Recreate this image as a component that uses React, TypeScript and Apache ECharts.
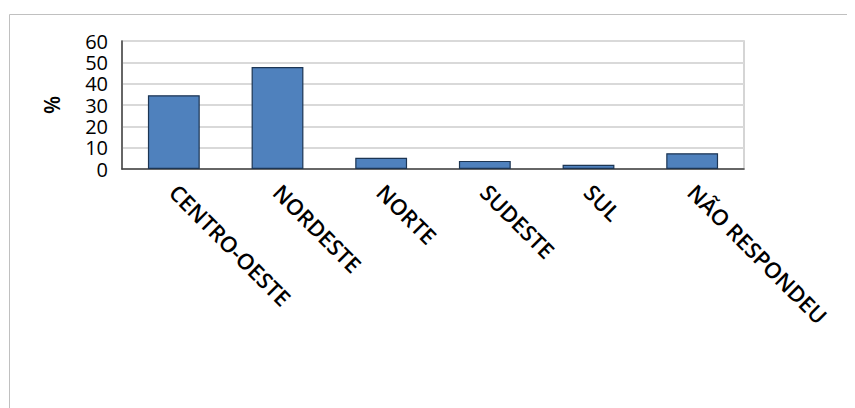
import React, { useEffect, useRef } from "react";
import * as echarts from "echarts";

const categories = ["CENTRO-OESTE", "NORDESTE", "NORTE", "SUDESTE", "SUL", "NÃO RESPONDEU"];
const values = [34.6, 47.8, 5.3, 3.8, 2.0, 7.4];
const yMin = 0;
const yMax = 60;
const yInterval = 10;
const yName = "%";

export default function App() {
  const ref = useRef<HTMLDivElement>(null);
  useEffect(() => {
    if (!ref.current) return;
    const chart = echarts.init(ref.current, null, { renderer: "svg" });
    chart.setOption({
      animation: false,
      backgroundColor: "#ffffff",
      graphic: [
        {
          type: "rect",
          shape: { x: 1.5, y: 6.5, width: 900, height: 420 },
          style: { fill: "none", stroke: "#c0c0c0", lineWidth: 1 },
          silent: true,
          z: -10,
        },
      ],
      grid: { left: 114, top: 33, right: 111, bottom: 239, show: true, borderColor: "#c8c8c8", borderWidth: 1.5 },
      xAxis: {
        type: "category",
        data: categories,
        axisTick: { show: false },
        axisLine: { show: true, lineStyle: { color: "#404040", width: 1.5 } },
        axisLabel: {
          rotate: -45,
          margin: 19,
          interval: 0,
          color: "#000000",
          fontFamily: "Open Sans",
          fontSize: 22,
          fontWeight: 600,
        },
      },
      yAxis: {
        type: "value",
        min: yMin,
        max: yMax,
        interval: yInterval,
        name: yName,
        nameLocation: "middle",
        nameGap: 60,
        nameRotate: 90,
        nameTextStyle: { color: "#000000", fontFamily: "Open Sans", fontSize: 21, fontWeight: 600 },
        axisLine: { show: true, lineStyle: { color: "#404040", width: 1.5 } },
        axisTick: { show: false },
        splitLine: { show: true, lineStyle: { color: "#d9d9d9", width: 2 } },
        axisLabel: {
          margin: 14,
          showMinLabel: true,
          showMaxLabel: true,
          hideOverlap: false,
          color: "#000000",
          fontFamily: "Open Sans",
          fontSize: 20,
          lineHeight: 18,
        },
      },
      series: [
        {
          type: "bar",
          data: values,
          barWidth: "50%",
          itemStyle: { color: "#4f81bd", borderColor: "#1c3553", borderWidth: 1.2 },
        },
      ],
    });
    return () => chart.dispose();
  }, []);
  return <div ref={ref} style={{ width: 847, height: 400 }} />;
}
